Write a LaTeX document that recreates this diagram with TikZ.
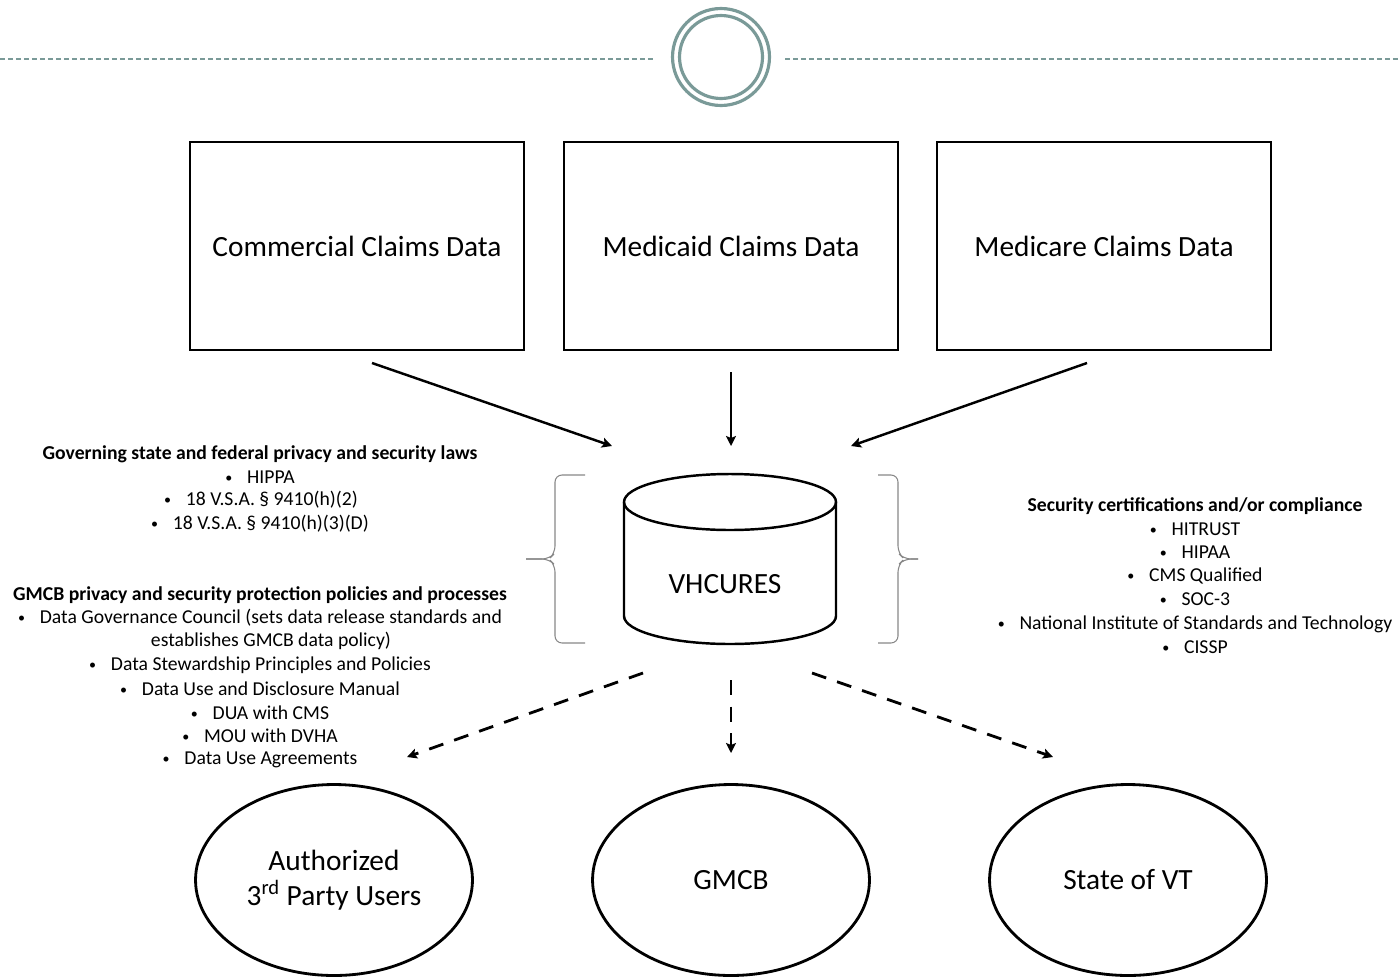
\documentclass[tikz,border=0pt]{standalone}
\usepackage{fontspec}
\setmainfont{Carlito}
\usetikzlibrary{arrows.meta,positioning,shapes.geometric}
\definecolor{ringteal}{RGB}{122,154,152}
\definecolor{bracegrey}{RGB}{135,135,135}
\newcommand{\bul}{\raisebox{0.1ex}{\footnotesize\textbullet}\hspace{0.75em}}

\begin{document}
\begin{tikzpicture}[x=0.02cm,y=-0.02cm]

\tikzset{databox/.style={draw,line width=1.6pt,minimum width=6.68cm,minimum height=4.16cm,font=\fontsize{16.7}{20}\selectfont},
userell/.style={draw,ellipse,line width=1.6pt,minimum width=5.54cm,minimum height=3.82cm,font=\fontsize{16.7}{20}\selectfont,align=center},
listline/.style={font=\fontsize{11.2}{13}\selectfont,inner sep=0pt},
listhead/.style={font=\fontsize{11.2}{13}\selectfont\bfseries,inner sep=0pt},
feed/.style={line width=1.4pt,-{Stealth[length=2mm,width=2mm,inset=0.4mm]}},
share/.style={line width=1.6pt,dash pattern=on 3mm off 2.3mm,-{Stealth[length=2mm,width=2mm,inset=0.4mm]}},
bracket/.style={draw=bracegrey,line width=0.6pt,rounded corners=4pt}}

\useasboundingbox (0,0) rectangle (1398,977);

% Header ring and rule
\draw[ringteal,line width=1.1pt,dash pattern=on 1mm off 0.6mm] (0,59) -- (655,59);
\draw[ringteal,line width=1.1pt,dash pattern=on 1mm off 0.6mm] (785,59) -- (1398,59);
\node (ring) [circle,draw=ringteal,line width=1.8pt,minimum size=1.94cm] at (721,57) {};
\node (ringin) [circle,draw=ringteal,line width=1.8pt,minimum size=1.66cm] at (721,57) {};

% Claims data sources
\node (com) [databox] at (357,246) {Commercial Claims Data};
\node (mcd) [databox] at (731,246) {Medicaid Claims Data};
\node (mcr) [databox] at (1104,246) {Medicare Claims Data};

% VHCURES database
\draw[line width=1.4pt] (730,502) ellipse (106 and 28);
\draw[line width=1.4pt] (624,502) -- (624,616) arc[start angle=180,end angle=0,x radius=106,y radius=28] -- (836,502);
\node (vh) [font=\fontsize{16.7}{20}\selectfont] at (725,584) {VHCURES};

% Brackets
\draw[bracket] (585,475) -- (555,475) -- (555,553) -- (549,559) -- (526,559);
\draw[bracket] (526,559) -- (549,559) -- (555,565) -- (555,643) -- (585,643);
\draw[bracket] (878,475) -- (898,475) -- (898,553) -- (904,559) -- (918,559);
\draw[bracket] (918,559) -- (904,559) -- (898,565) -- (898,643) -- (878,643);

% Incoming arrows
\coordinate (comout) at (372,363); \coordinate (comin) at (612,446);
\coordinate (mcdout) at (731,372); \coordinate (mcdin) at (731,446);
\coordinate (mcrout) at (1087,363); \coordinate (mcrin) at (851,446);
\draw[feed] (comout) -- (comin);
\draw[feed] (mcdout) -- (mcdin);
\draw[feed] (mcrout) -- (mcrin);

% Users
\node (auth) [userell] at (334,880) {Authorized\\3\textsuperscript{rd} Party Users};
\node (gmcb) [userell] at (731,880) {GMCB};
\node (vt) [userell] at (1128,880) {State of VT};

% Outgoing arrows
\coordinate (authout) at (643,673); \coordinate (authin) at (407,757);
\coordinate (gmcbout) at (731,680); \coordinate (gmcbin) at (731,753);
\coordinate (vtout) at (812,673); \coordinate (vtin) at (1053,757);
\draw[share] (authout) -- (authin);
\draw[share] (gmcbout) -- (gmcbin);
\draw[share] (vtout) -- (vtin);

% Laws
\node (lawhead) [listhead] at (260,454) {Governing state and federal privacy and security laws};
\node (law1) [listline] at (260,477) {\bul HIPPA};
\node (law2) [listline] at (261,500) {\bul 18 V.S.A. § 9410(h)(2)};
\node (law3) [listline] at (260,524) {\bul 18 V.S.A. § 9410(h)(3)(D)};

% Policies
\node (polhead) [listhead] at (260,595) {GMCB privacy and security protection policies and processes};
\node (pol1) [listline] at (260,618) {\bul Data Governance Council (sets data release standards and};
\node (pol1b) [listline] at (271,641) {establishes GMCB data policy)};
\node (pol2) [listline] at (260,665) {\bul Data Stewardship Principles and Policies};
\node (pol3) [listline] at (260,689) {\bul Data Use and Disclosure Manual};
\node (pol4) [listline] at (260,713) {\bul DUA with CMS};
\node (pol5) [listline] at (260,736) {\bul MOU with DVHA};
\node (pol6) [listline] at (260,760) {\bul Data Use Agreements};

% Certifications
\node (certhead) [listhead] at (1195,506) {Security certifications and/or compliance};
\node (cert1) [listline] at (1195,529) {\bul HITRUST};
\node (cert2) [listline] at (1195,552) {\bul HIPAA};
\node (cert3) [listline] at (1195,576) {\bul CMS Qualified};
\node (cert4) [listline] at (1195,599) {\bul SOC-3};
\node (cert5) [listline] at (1195,624) {\bul National Institute of Standards and Technology};
\node (cert6) [listline] at (1195,647) {\bul CISSP};

\end{tikzpicture}
\end{document}
